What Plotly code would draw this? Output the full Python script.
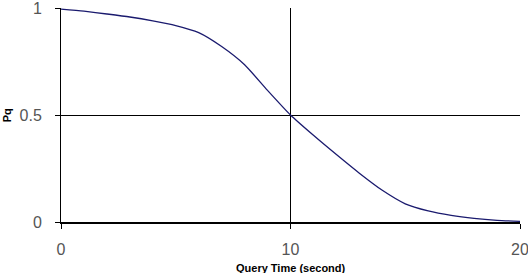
import plotly.graph_objects as go

query_time = list(range(0, 21))
pq = [0.995, 0.985, 0.972, 0.958, 0.94, 0.918, 0.885, 0.82, 0.735, 0.615, 0.5,
      0.405, 0.315, 0.228, 0.148, 0.085, 0.052, 0.031, 0.017, 0.008, 0.003]
x_ticks = [0, 10, 20]
y_ticks = [0, 0.5, 1]
y_tick_text = ["0", "0.5", "1"]

fig = go.Figure()
fig.add_trace(go.Scatter(x=query_time, y=pq, mode="lines",
                         line=dict(color="#1a1a6e", width=1.3, shape="spline", smoothing=0.6),
                         showlegend=False, hoverinfo="skip", cliponaxis=False))

tickfont = dict(family="Liberation Sans, Arial, sans-serif", size=16, color="#555555")
fig.update_xaxes(range=[0, 20], tickvals=x_ticks, ticktext=[str(v) for v in x_ticks],
                 showgrid=True, gridcolor="#000000", gridwidth=1,
                 showline=True, linecolor="#000000", linewidth=2,
                 ticks="outside", ticklen=5, tickcolor="#000000", tickwidth=1,
                 ticklabelstandoff=7, ticklabeloverflow="allow", automargin=False,
                 tickfont=tickfont, zeroline=False)
fig.update_yaxes(range=[0, 1], tickvals=y_ticks, ticktext=y_tick_text,
                 showgrid=True, gridcolor="#000000", gridwidth=1,
                 showline=True, linecolor="#000000", linewidth=1,
                 ticks="outside", ticklen=5, tickcolor="#000000", tickwidth=1,
                 ticklabelstandoff=10, ticklabeloverflow="allow", automargin=False,
                 tickfont=tickfont, zeroline=False)

titlefont = dict(family="Liberation Sans, Arial, sans-serif", size=11, color="#000000")
fig.add_annotation(text="<b>Query Time (second)</b>", xref="paper", yref="paper",
                   x=0.5, y=-0.178, xanchor="center", yanchor="top",
                   showarrow=False, font=titlefont)
fig.add_annotation(text="<b>Pq</b>", xref="paper", yref="paper",
                   x=-0.117, y=0.5, xanchor="center", yanchor="middle",
                   textangle=-90, showarrow=False, font=titlefont)

fig.update_layout(width=528, height=273,
                  margin=dict(l=61, r=8, t=8, b=51, autoexpand=False),
                  paper_bgcolor="white", plot_bgcolor="white")
fig.write_html("out.html")
